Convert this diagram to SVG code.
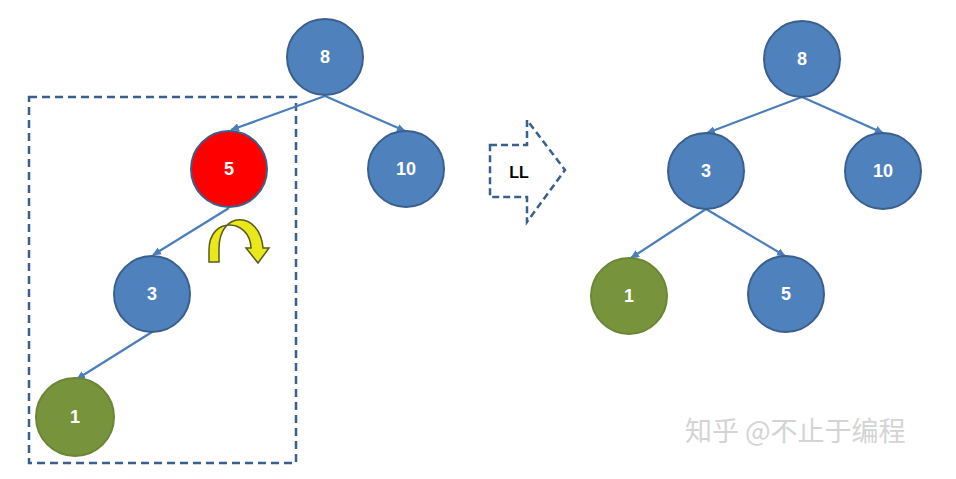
<svg xmlns="http://www.w3.org/2000/svg" width="956" height="479" viewBox="0 0 956 479">
<defs>
<marker id="ah" markerWidth="10" markerHeight="10" refX="8" refY="5" orient="auto" markerUnits="userSpaceOnUse">
<path d="M0,1 L9,5 L0,9 z" fill="#4A7EBB"/>
</marker>
<style>
.n{stroke:#3A5F8D;stroke-width:2}
.b{fill:#4F81BD}
.r{fill:#FF0000}
.g{fill:#77933C;stroke:#6B8636}
.t{font-family:"Liberation Sans",Arial,sans-serif;font-weight:bold;font-size:18px;fill:#fff;text-anchor:middle;dominant-baseline:central}
.e{stroke:#4A7EBB;stroke-width:2.2;fill:none;marker-end:url(#ah)}
.d{fill:none;stroke:#3A5F8D;stroke-width:2.5;stroke-dasharray:8,5}
</style>
</defs>
<rect width="956" height="479" fill="#fff"/>
<rect class="d" x="29" y="97" width="267" height="366"/>
<g id="connectors">
<line class="e" x1="325" y1="96" x2="231" y2="130"/>
<line class="e" x1="325" y1="96" x2="405" y2="131"/>
<line class="e" x1="229" y1="208" x2="153" y2="255"/>
<line class="e" x1="152" y1="332" x2="77" y2="379"/>
<line class="e" x1="802" y1="97" x2="707" y2="133"/>
<line class="e" x1="802" y1="97" x2="883" y2="133"/>
<line class="e" x1="706" y1="209" x2="631" y2="258"/>
<line class="e" x1="706" y1="209" x2="785" y2="256"/>
</g>
<g id="L8"><circle class="n b" cx="325" cy="57" r="38"/><text class="t" x="325" y="57">8</text></g>
<g id="L5"><circle class="n r" cx="229" cy="169" r="38"/><text class="t" x="229" y="169">5</text></g>
<g id="L10"><circle class="n b" cx="406" cy="169" r="38"/><text class="t" x="406" y="169">10</text></g>
<g id="L3"><circle class="n b" cx="152" cy="294" r="38"/><text class="t" x="152" y="294">3</text></g>
<g id="L1"><circle class="n g" cx="75" cy="417" r="39"/><text class="t" x="75" y="417">1</text></g>
<g id="R8"><circle class="n b" cx="802" cy="59" r="38"/><text class="t" x="802" y="59">8</text></g>
<g id="R3"><circle class="n b" cx="706" cy="171" r="38"/><text class="t" x="706" y="171">3</text></g>
<g id="R10"><circle class="n b" cx="883" cy="171" r="38"/><text class="t" x="883" y="171">10</text></g>
<g id="R1"><circle class="n g" cx="629" cy="296" r="38"/><text class="t" x="629" y="296">1</text></g>
<g id="R5"><circle class="n b" cx="786" cy="294" r="38"/><text class="t" x="786" y="294">5</text></g>
<g id="rotate">
<path d="M209,262 L209,250 C209,216 250,218 251,248 L246,248 L258,263 L269,248 L263,248 C260,210 218,210 219,250 L219,262 Z" fill="#E8E81A" stroke="#5A5A20" stroke-width="1.5"/>
</g>
<g id="LL">
<path d="M490,145 L527,145 L527,120 L565,170 L527,222 L527,197 L490,197 Z" fill="#fff" stroke="#3A5F8D" stroke-width="2.5" stroke-dasharray="7,4"/>
<text x="519" y="172" font-family="'Liberation Sans',Arial,sans-serif" font-weight="bold" font-size="16" fill="#000" text-anchor="middle" dominant-baseline="central">LL</text>
</g>
<text x="685" y="441" font-family="'Noto Sans CJK SC','Liberation Sans',sans-serif" font-size="27" fill="#d4d4d4">知乎 @不止于编程</text>
</svg>
